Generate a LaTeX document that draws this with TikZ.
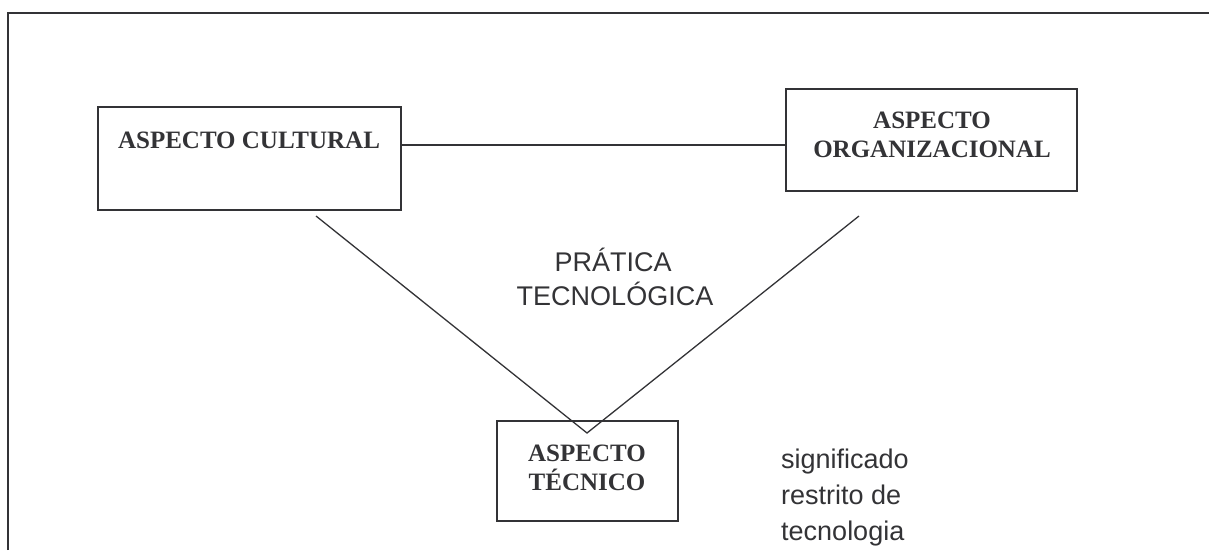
\documentclass[tikz,border=0pt]{standalone}
\usepackage{fontspec}
\setmainfont{Liberation Serif}
\newfontfamily\arialfont{Liberation Sans}
\definecolor{ink}{HTML}{333336}
\begin{document}
\begin{tikzpicture}[x=1pt,y=-1pt,
  box/.style={draw=ink,line width=1.7pt,inner sep=0pt,minimum width=#1},
  boxtext/.style={text=ink,inner sep=0pt,align=center,font=\fontsize{25}{#1}\selectfont\bfseries},
  sanstext/.style={text=ink,inner sep=0pt,font=\arialfont\fontsize{27}{#1}\selectfont},
  link/.style={draw=ink,line width=1.3pt}]
\useasboundingbox (0,0) rectangle (1209,550);
% frame
\draw[ink,line width=2.4pt] (8,550) -- (8,13) -- (1209,13);
% boxes
\node[box=303pt,minimum height=103pt] (cult) at (249.5,158.5) {};
\node[box=291pt,minimum height=102pt] (org) at (931.5,140) {};
\node[box=181pt,minimum height=100pt] (tec) at (587.5,471) {};
% box texts
\node[boxtext=23pt,anchor=base] (cultT) at (249,148) {ASPECTO CULTURAL};
\node[boxtext=23pt,anchor=base] (orgT1) at (932,128) {ASPECTO};
\node[boxtext=23pt,anchor=base] (orgT2) at (932,157) {ORGANIZACIONAL};
\node[boxtext=28pt,anchor=base] (tecT1) at (587,461.5) {ASPECTO};
\node[boxtext=28pt,anchor=base] (tecT2) at (587,490) {TÉCNICO};
% connectors
\draw[link] (cult.east |- 0,145) -- (org.west |- 0,145);
\coordinate (vl) at (316,216);
\coordinate (vr) at (859,216);
\coordinate (apex) at (587,433);
\draw[link] (vl) -- (apex) -- (vr);
% labels
\node[sanstext=34pt,anchor=base] (prat1) at (613,271) {PRÁTICA};
\node[sanstext=34pt,anchor=base] (prat2) at (615,305) {TECNOLÓGICA};
\node[sanstext=36pt,anchor=base west] (sig1) at (781,468) {significado};
\node[sanstext=36pt,anchor=base west] (sig2) at (781,504) {restrito de};
\node[sanstext=36pt,anchor=base west] (sig3) at (781,540) {tecnologia};
\end{tikzpicture}
\end{document}
